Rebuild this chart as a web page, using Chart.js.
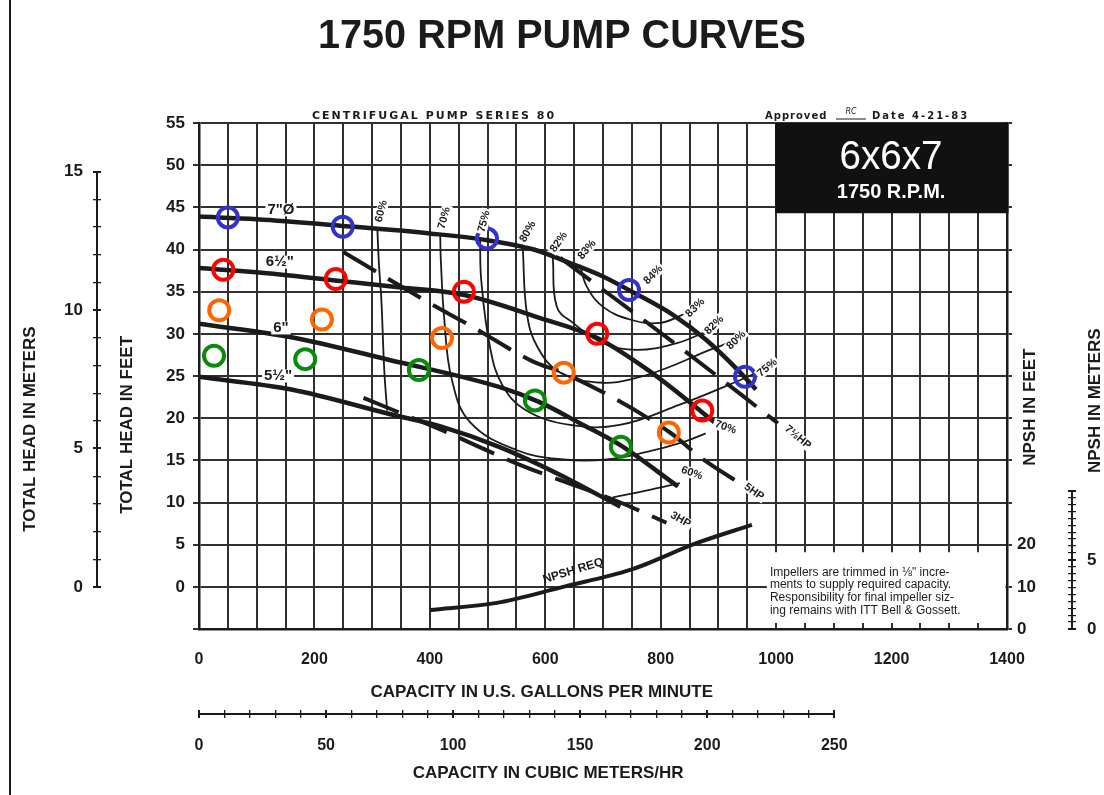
<!DOCTYPE html>
<html lang="en">
<head>
<meta charset="utf-8">
<title>1750 RPM Pump Curves — 6x6x7</title>
<script src="https://cdn.jsdelivr.net/npm/chart.js@4.4.1/dist/chart.umd.min.js"></script>
<style>
  html, body { margin: 0; padding: 0; background: #ffffff; }
  .chart-wrap { position: relative; width: 1104px; height: 795px; }
</style>
</head>
<body>
<div class="chart-wrap"><canvas id="pump-chart"></canvas></div>
<script>
/**
 * pump-curves — Series 80 6x6x7 centrifugal pump, 1750 rpm.
 * Head/capacity per impeller trim, efficiency islands, HP lines, NPSH required.
 */

const INK = '#1b1b1b';
const GRID_INK = '#303030';
const SANS = '"Liberation Sans", Arial, Helvetica, sans-serif';
const FT_PER_M = 3.2808;
const GPM_PER_M3H = 4.4029;

// Impeller trims: capacity (US gpm) vs total head (ft)
const imp7Gpm   = [0, 100, 250, 400, 500, 580, 650, 700, 750, 820, 880, 945, 965];
const imp7Head  = [43.9, 43.6, 42.8, 41.9, 41.1, 40.0, 38.2, 36.8, 35.0, 32.3, 29.2, 24.9, 23.4];
const imp65Gpm  = [0, 100, 240, 350, 460, 590, 690, 780, 870, 895];
const imp65Head = [37.8, 37.3, 36.3, 35.5, 34.6, 31.9, 29.5, 25.6, 20.8, 19.4];
const imp6Gpm   = [0, 160, 330, 520, 590, 660, 730, 830];
const imp6Head  = [31.2, 29.6, 26.9, 23.7, 21.9, 19.4, 16.8, 11.9];
const imp55Gpm  = [0, 160, 330, 420, 520, 625, 730];
const imp55Head = [24.9, 23.4, 20.5, 19.0, 16.6, 13.3, 9.5];

// Efficiency contours (gpm, ft)
const eff60aGpm  = [309, 312, 316, 321, 326];
const eff60aHead = [42.4, 38.0, 34.0, 25.7, 20.9];
const eff60bGpm  = [717, 781, 833];
const eff60bHead = [10.6, 11.5, 12.3];
const eff70Gpm   = [418, 419, 425, 438, 470, 551, 631, 707, 776, 840, 878];
const eff70Head  = [41.6, 38.8, 31.7, 24.6, 19.5, 16.2, 15.1, 15.1, 16.0, 17.2, 18.2];
const eff75Gpm   = [487, 489, 504, 525, 565, 643, 729, 833, 937, 969];
const eff75Head  = [41.2, 36.4, 28.5, 24.0, 21.0, 19.2, 19.2, 21.6, 24.5, 25.5];
const eff80Gpm   = [561, 568, 586, 626, 700, 759, 816, 885, 917];
const eff80Head  = [40.1, 32.5, 28.5, 25.4, 24.2, 24.8, 26.1, 28.1, 28.9];
const eff82Gpm   = [613, 620, 648, 700, 759, 828, 877];
const eff82Head  = [39.0, 33.2, 31.3, 28.9, 28.1, 28.9, 30.2];
const eff83Gpm   = [660, 672, 700, 747, 799, 846];
const eff83Head  = [38.2, 35.6, 33.2, 31.7, 31.3, 32.5];

// Brake horsepower lines (gpm, ft)
const hp75Gpm  = [626, 839, 1003];
const hp75Head = [39.0, 28.1, 19.4];
const hp5Gpm   = [250, 383, 482, 579, 634, 816, 868, 941];
const hp5Head  = [39.7, 34.3, 30.5, 26.7, 25.3, 18.3, 15.4, 12.1];
const hp3Gpm   = [285, 420, 555, 730, 810];
const hp3Head  = [22.4, 18.6, 14.5, 10.0, 7.6];

// NPSH required (gpm, ft)
const npshGpm = [400, 516, 631, 747, 863, 958];
const npshFt  = [4.5, 6.2, 10.0, 14.0, 20.4, 24.7];

// Marked duty points per trim (gpm, ft)
const mark7Gpm   = [50, 249, 499, 745, 946];
const mark7Head  = [43.8, 42.7, 41.3, 35.2, 24.9];
const mark65Gpm  = [42, 237, 459, 690, 872];
const mark65Head = [37.6, 36.5, 35.0, 30.0, 20.9];
const mark6Gpm   = [35, 213, 421, 632, 814];
const mark6Head  = [32.8, 31.7, 29.5, 25.4, 18.3];
const mark55Gpm  = [26, 184, 381, 582, 731];
const mark55Head = [27.4, 27.0, 25.7, 22.1, 16.6];

// Tick labels
const gpmTicks    = [0, 200, 400, 600, 800, 1000, 1200, 1400];
const headFtTicks = [0, 5, 10, 15, 20, 25, 30, 35, 40, 45, 50, 55];
const headMTicks  = [0, 5, 10, 15];
const m3hTicks    = [0, 50, 100, 150, 200, 250];
const npshFtTicks = [0, 10, 20];
const npshMTicks  = [0, 5];

function pts(xs, ys) { return xs.map((v, i) => ({ x: v, y: ys[i] })); }

function stepTicks(from, to, step) {
    const out = [];
    for (let i = 0; from + i * step <= to + 1e-9; i++) out.push({ value: +(from + i * step).toFixed(3) });
    return out;
}

function drawLabel(ctx, text, x, y, o = {}) {
    ctx.save();
    ctx.font = o.font || `bold 12px ${SANS}`;
    ctx.textAlign = o.align || 'center';
    ctx.textBaseline = 'middle';
    if (o.spacing) ctx.letterSpacing = o.spacing + 'px';
    ctx.translate(x, y);
    if (o.angle) ctx.rotate(o.angle * Math.PI / 180);
    if (o.bg) {
        let w = ctx.measureText(text).width;
        if (o.maxWidth) w = Math.min(w, o.maxWidth);
        const h = o.bgHeight || 12;
        const x0 = ctx.textAlign === 'left' ? 0 : -w / 2;
        ctx.fillStyle = '#ffffff';
        ctx.fillRect(x0 - 2, -h / 2, w + 4, h);
    }
    ctx.fillStyle = o.color || INK;
    if (o.maxWidth) ctx.fillText(text, 0, 0, o.maxWidth);
    else ctx.fillText(text, 0, 0);
    ctx.restore();
}

function rule(ctx, x1, y1, x2, y2, w = 2) {
    ctx.save();
    ctx.strokeStyle = INK;
    ctx.lineWidth = w;
    ctx.beginPath();
    ctx.moveTo(x1, y1);
    ctx.lineTo(x2, y2);
    ctx.stroke();
    ctx.restore();
}

const impTags = [
    { text: '7"Ø', gpm: 142, head: 44.7 },
    { text: '6½"', gpm: 140, head: 38.5 },
    { text: '6"',  gpm: 142, head: 30.7 },
    { text: '5½"', gpm: 137, head: 25.0 },
];

// tags hung off the first/last point of a drawn series
const seriesTags = [
    { id: 'eff60a', at: 'first', text: '60%', dx: 4,  dy: -18, angle: -75 },
    { id: 'eff70',  at: 'first', text: '70%', dx: 4,  dy: -18, angle: -75 },
    { id: 'eff75',  at: 'first', text: '75%', dx: 4,  dy: -18, angle: -75 },
    { id: 'eff80',  at: 'first', text: '80%', dx: 5,  dy: -17, angle: -60 },
    { id: 'eff82',  at: 'first', text: '82%', dx: 6,  dy: -16, angle: -55 },
    { id: 'eff83',  at: 'first', text: '83%', dx: 7,  dy: -15, angle: -50 },
    { id: 'eff83',  at: 'last',  text: '83%', dx: 8,  dy: -5,  angle: -45 },
    { id: 'eff82',  at: 'last',  text: '82%', dx: 9,  dy: -7,  angle: -45 },
    { id: 'eff80',  at: 'last',  text: '80%', dx: 8,  dy: -3,  angle: -45 },
    { id: 'eff75',  at: 'last',  text: '75%', dx: 9,  dy: -4,  angle: -40 },
    { id: 'eff70',  at: 'last',  text: '70%', dx: 20, dy: -6,  angle: 20 },
    { id: 'eff60b', at: 'last',  text: '60%', dx: 12, dy: -10, angle: 20 },
    { id: 'hp75',   at: 'last',  text: '7½HP', dx: 20, dy: 14, angle: 40 },
    { id: 'hp5',    at: 'last',  text: '5HP', dx: 12, dy: 7,  angle: 35 },
    { id: 'hp3',    at: 'last',  text: '3HP', dx: 14, dy: -3, angle: 30 },
];

const pumpDecor = {
    id: 'pumpDecor',
    beforeDraw(chart) {
        const { ctx, height } = chart;
        ctx.save();
        ctx.fillStyle = '#ffffff';
        ctx.fillRect(0, 0, chart.width, height);
        ctx.restore();
        rule(ctx, 10, 0, 10, height, 2);
    },
    beforeDatasetsDraw(chart) {
        const { ctx, chartArea: area, scales } = chart;
        const { x, y, x2, yM, yN, yNm } = scales;

        drawLabel(ctx, '1750 RPM PUMP CURVES', 562, 37, { font: `bold 41px ${SANS}`, maxWidth: 488 });
        drawLabel(ctx, 'CENTRIFUGAL PUMP SERIES 80', 434, area.top - 7, { font: 'bold 11px "DejaVu Sans"', spacing: 2, maxWidth: 245 });
        drawLabel(ctx, 'Approved', 765, area.top - 7, { align: 'left', font: 'bold 10px "DejaVu Sans"', spacing: 1 });
        drawLabel(ctx, 'RC', 851, area.top - 11, { font: 'italic 8px "DejaVu Sans"' });
        rule(ctx, 836, area.top - 4, 866, area.top - 4, 1);
        drawLabel(ctx, 'Date 4-21-83', 872, area.top - 7, { align: 'left', font: 'bold 10px "DejaVu Sans"', spacing: 2 });

        // model block
        const bx = x.getPixelForValue(1000) - 1;
        const bBottom = y.getPixelForValue(44.3);
        ctx.save();
        ctx.fillStyle = '#111111';
        ctx.fillRect(bx, area.top, area.right - bx + 1.5, bBottom - area.top);
        ctx.restore();
        const bcx = (bx + area.right) / 2;
        drawLabel(ctx, '6x6x7', bcx, area.top + 35, { font: `40px ${SANS}`, color: '#ffffff', maxWidth: 103 });
        drawLabel(ctx, '1750 R.P.M.', bcx, area.top + 69, { font: `bold 20px ${SANS}`, color: '#ffffff', maxWidth: 120 });

        // trim note
        const nx = x.getPixelForValue(984);
        const ny = y.getPixelForValue(4.1);
        ctx.save();
        ctx.fillStyle = '#ffffff';
        ctx.fillRect(nx, ny, area.right - 1.5 - nx, area.bottom - 6 - ny);
        ctx.restore();
        const note = [
            'Impellers are trimmed in ⅛" incre-',
            'ments to supply required capacity.',
            'Responsibility for final impeller siz-',
            'ing remains with ITT Bell & Gossett.',
        ];
        note.forEach((t, i) => drawLabel(ctx, t, nx + 3, ny + 20 + i * 12.7,
            { align: 'left', font: `12px ${SANS}`, maxWidth: 215 }));

        // secondary axis spines
        rule(ctx, yM.right - 4, yM.getPixelForValue(0), yM.right - 4, yM.getPixelForValue(15), 2);
        rule(ctx, x2.getPixelForValue(0), x2.top + 4, x2.getPixelForValue(250), x2.top + 4, 2);
        rule(ctx, yNm.left + 4, yNm.getPixelForValue(0), yNm.left + 4, yNm.getPixelForValue(10), 2);

        // axis titles
        const tf = `bold 17px ${SANS}`;
        drawLabel(ctx, 'CAPACITY IN U.S. GALLONS PER MINUTE', x.getPixelForValue(594), x.top + 63, { font: tf, maxWidth: 355 });
        drawLabel(ctx, 'CAPACITY IN CUBIC METERS/HR', x2.getPixelForValue(137.4), x2.top + 63, { font: tf, maxWidth: 283 });
        drawLabel(ctx, 'TOTAL HEAD IN FEET', y.left + 26, y.getPixelForValue(19.2), { font: tf, angle: -90, maxWidth: 185 });
        drawLabel(ctx, 'TOTAL HEAD IN METERS', yM.left + 30, yM.getPixelForValue(5.7), { font: tf, angle: -90, maxWidth: 214 });
        drawLabel(ctx, 'NPSH IN FEET', yN.left + 23, yN.getPixelForValue(52.6), { font: tf, angle: -90, maxWidth: 119 });
        drawLabel(ctx, 'NPSH IN METERS', yNm.left + 27, yNm.getPixelForValue(16.5), { font: tf, angle: -90, maxWidth: 148 });
    },
    afterDatasetsDraw(chart) {
        const { ctx, scales: { x, y } } = chart;

        impTags.forEach(t => drawLabel(ctx, t.text, x.getPixelForValue(t.gpm), y.getPixelForValue(t.head),
            { font: `bold 15px ${SANS}`, bg: true, bgHeight: 13 }));

        const byId = {};
        chart.data.datasets.forEach((ds, i) => { byId[ds.label] = chart.getDatasetMeta(i).data; });
        seriesTags.forEach(t => {
            const pts = byId[t.id];
            if (!pts || !pts.length) return;
            const p = t.at === 'first' ? pts[0] : pts[pts.length - 1];
            drawLabel(ctx, t.text, p.x + t.dx, p.y + t.dy,
                { font: `bold 11px ${SANS}`, angle: t.angle, bg: true, bgHeight: 11 });
        });

        drawLabel(ctx, '84%', x.getPixelForValue(787), y.getPixelForValue(37.0),
            { font: `bold 11px ${SANS}`, angle: -45, bg: true, bgHeight: 11 });

        const np = byId.npsh;
        if (np) drawLabel(ctx, 'NPSH REQ', np[2].x + 10, np[2].y - 16,
            { font: `bold 12px ${SANS}`, angle: -17, maxWidth: 84 });
    },
};

const curve = (label, xs, ys, extra = {}) => ({
    label,
    data: pts(xs, ys),
    borderColor: INK,
    borderWidth: 4.5,
    pointRadius: 0,
    fill: false,
    cubicInterpolationMode: 'monotone',
    order: 1,
    ...extra,
});

const contour = (label, xs, ys) => curve(label, xs, ys, {
    borderWidth: 1.8, cubicInterpolationMode: 'default', tension: 0.4,
});

const hpLine = (label, xs, ys) => curve(label, xs, ys, { borderWidth: 4, borderDash: [38, 14] });

const marker = (label, xs, ys, color) => ({
    label,
    data: pts(xs, ys),
    showLine: false,
    pointStyle: 'circle',
    pointRadius: 10,
    pointBorderWidth: 4,
    pointBorderColor: color,
    pointBackgroundColor: 'rgba(0,0,0,0)',
    order: 0,
});

const tickFont = { family: SANS, size: 16, weight: 'bold' };

new Chart(document.getElementById('pump-chart'), {
    type: 'line',
    data: {
        datasets: [
            marker('pts7', mark7Gpm, mark7Head, '#3333cc'),
            marker('pts65', mark65Gpm, mark65Head, '#ff0000'),
            marker('pts6', mark6Gpm, mark6Head, '#ff6600'),
            marker('pts55', mark55Gpm, mark55Head, '#0a8a0a'),
            curve('imp7', imp7Gpm, imp7Head),
            curve('imp65', imp65Gpm, imp65Head),
            curve('imp6', imp6Gpm, imp6Head),
            curve('imp55', imp55Gpm, imp55Head),
            contour('eff60a', eff60aGpm, eff60aHead),
            contour('eff60b', eff60bGpm, eff60bHead),
            contour('eff70', eff70Gpm, eff70Head),
            contour('eff75', eff75Gpm, eff75Head),
            contour('eff80', eff80Gpm, eff80Head),
            contour('eff82', eff82Gpm, eff82Head),
            contour('eff83', eff83Gpm, eff83Head),
            hpLine('hp75', hp75Gpm, hp75Head),
            hpLine('hp5', hp5Gpm, hp5Head),
            hpLine('hp3', hp3Gpm, hp3Head),
            curve('npsh', npshGpm, npshFt, { yAxisID: 'yN', borderWidth: 4 }),
        ],
    },
    options: {
        responsive: true,
        maintainAspectRatio: false,
        animation: false,
        events: [],
        layout: { padding: { top: 123, left: 0, right: 0, bottom: 0 } },
        plugins: { legend: { display: false }, tooltip: { enabled: false } },
        scales: {
            x: {
                type: 'linear', position: 'bottom', weight: 0, min: 0, max: 1400,
                afterBuildTicks: s => { s.ticks = stepTicks(0, 1400, 50); },
                ticks: { autoSkip: false, maxRotation: 0, minRotation: 0, padding: 21, font: tickFont, color: INK,
                         callback: v => gpmTicks.includes(v) ? v : '' },
                grid: { color: GRID_INK, lineWidth: 2, drawTicks: false },
                border: { color: INK, width: 2.5 },
                afterFit: s => { s.height = 81; },
            },
            x2: {
                type: 'linear', position: 'bottom', weight: 1, min: 0, max: 1400 / GPM_PER_M3H,
                afterBuildTicks: s => { s.ticks = stepTicks(0, 250, 10); },
                ticks: { autoSkip: false, maxRotation: 0, minRotation: 0, padding: 18, font: tickFont, color: INK,
                         callback: v => m3hTicks.includes(v) ? v : '' },
                grid: { drawOnChartArea: false, tickLength: 8, color: INK,
                        lineWidth: c => (c.tick && c.tick.value % 50 === 0 ? 2 : 1.3) },
                border: { display: false },
                afterFit: s => { s.height = 85; },
            },
            y: {
                type: 'linear', position: 'left', weight: 0, min: -5, max: 55,
                afterBuildTicks: s => { s.ticks = stepTicks(-5, 55, 5); },
                ticks: { autoSkip: false, padding: 8, font: { ...tickFont, size: 17 }, color: INK,
                         callback: v => headFtTicks.includes(v) ? v : '' },
                grid: { color: GRID_INK, lineWidth: 2, tickLength: 6 },
                border: { color: INK, width: 2.5 },
                afterFit: s => { s.width = 98; },
            },
            yM: {
                type: 'linear', position: 'left', weight: 1, min: -5 / FT_PER_M, max: 55 / FT_PER_M,
                afterBuildTicks: s => { s.ticks = stepTicks(0, 15, 1); },
                ticks: { autoSkip: false, padding: 10, font: { ...tickFont, size: 17 }, color: INK,
                         callback: v => headMTicks.includes(v) ? v : '' },
                grid: { drawOnChartArea: false, tickLength: 8, color: INK,
                        lineWidth: c => (c.tick && c.tick.value % 5 === 0 ? 2 : 1.3) },
                border: { display: false },
                afterFit: s => { s.width = 101; },
            },
            yN: {
                type: 'linear', position: 'right', weight: 0, min: 0, max: 120,
                afterBuildTicks: s => { s.ticks = stepTicks(0, 120, 10); },
                ticks: { autoSkip: false, padding: 5, font: { ...tickFont, size: 17 }, color: INK,
                         callback: v => npshFtTicks.includes(v) ? v : '' },
                grid: { drawOnChartArea: false, tickLength: 5, color: GRID_INK, lineWidth: 2 },
                border: { color: INK, width: 2.5 },
                afterFit: s => { s.width = 61; },
            },
            yNm: {
                type: 'linear', position: 'right', weight: 1, min: 0, max: 120 / FT_PER_M,
                afterBuildTicks: s => { s.ticks = stepTicks(0, 10, 0.5); },
                ticks: { autoSkip: false, padding: 11, font: { ...tickFont, size: 17 }, color: INK,
                         callback: v => npshMTicks.includes(v) ? v : '' },
                grid: { drawOnChartArea: false, tickLength: 8, color: INK,
                        lineWidth: c => (c.tick && c.tick.value % 5 === 0 ? 2 : 1.2) },
                border: { display: false },
                afterFit: s => { s.width = 36; },
            },
        },
    },
    plugins: [pumpDecor],
});
</script>
</body>
</html>
